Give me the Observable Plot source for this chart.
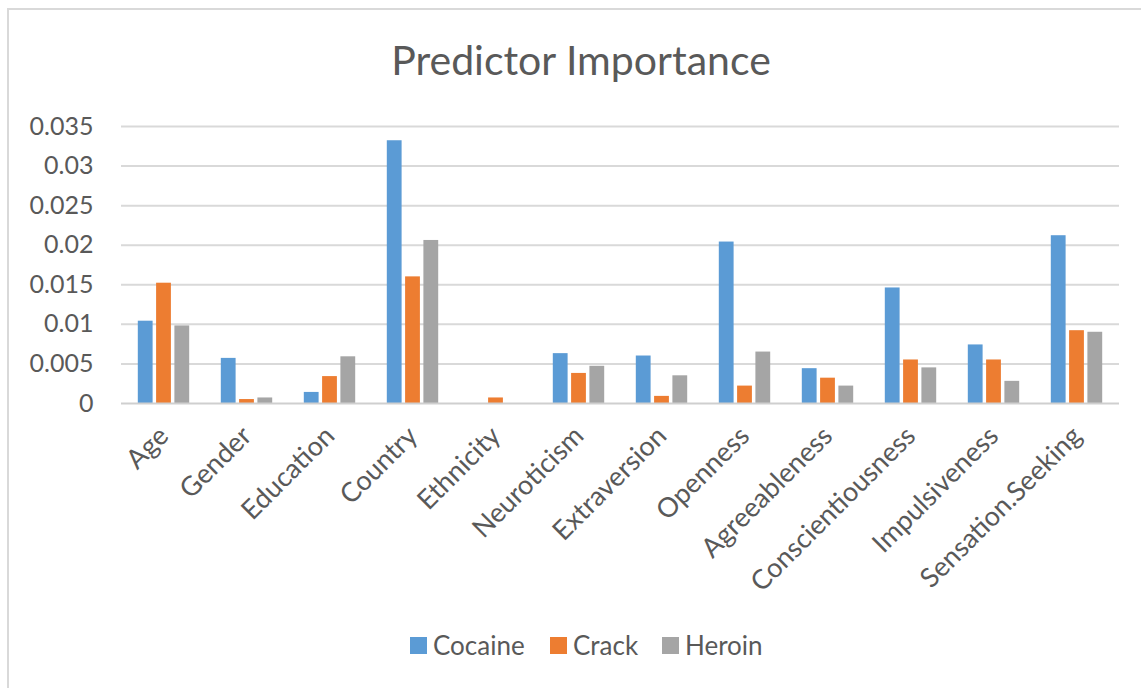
<!DOCTYPE html>
<html>
<head>
<meta charset="utf-8">
<script src="https://cdn.jsdelivr.net/npm/d3@7"></script>
<script src="https://cdn.jsdelivr.net/npm/@observablehq/plot@0.6"></script>
<style>
  html, body { margin: 0; padding: 0; background: #fff; }
  body { width: 1141px; height: 688px; position: relative; overflow: hidden; font-family: Lato, "Open Sans", sans-serif; color: #595959; }
  #frame { position: absolute; left: 7px; top: 8px; width: 1160px; height: 700px; border-left: 2px solid #d9d9d9; border-top: 2px solid #d9d9d9; }
  #title { position: absolute; left: 0; top: 35px; width: 1162px; text-align: center; font-size: 41px; color: #595959; }
  #chart { position: absolute; left: 0; top: 96px; }
  #legend { position: absolute; top: 630px; left: 0; width: 1141px; height: 30px; }
  .item { position: absolute; top: 0; font-size: 26px; line-height: 30px; color: #595959; }
  .sw { position: absolute; top: 7px; width: 17px; height: 17px; }
</style>
</head>
<body>
<div id="frame"></div>
<div id="title">Predictor Importance</div>
<div id="chart"></div>
<div id="legend"></div>
<script>
const categories = ["Age", "Gender", "Education", "Country", "Ethnicity", "Neuroticism", "Extraversion", "Openness", "Agreeableness", "Conscientiousness", "Impulsiveness", "Sensation.Seeking"];
const cocaine = [0.0104, 0.0057, 0.0014, 0.0332, 0, 0.0063, 0.0060, 0.0204, 0.0044, 0.0146, 0.0074, 0.0212];
const crack   = [0.0152, 0.0005, 0.0034, 0.0160, 0.0007, 0.0038, 0.0009, 0.0022, 0.0032, 0.0055, 0.0055, 0.0092];
const heroin  = [0.0098, 0.0007, 0.0059, 0.0206, 0, 0.0047, 0.0035, 0.0065, 0.0022, 0.0045, 0.0028, 0.0090];
const seriesNames = ["Cocaine", "Crack", "Heroin"];
const seriesColors = ["#5B9BD5", "#ED7D31", "#A5A5A5"];
const yTicks = [0, 0.005, 0.01, 0.015, 0.02, 0.025, 0.03, 0.035];

const seriesValues = [cocaine, crack, heroin];
const rows = seriesValues.map(vals => categories.map((c, i) => ({category: c, value: vals[i]})));
const insets = [[15.8, 52.4], [34.1, 34.1], [52.4, 15.8]];

const chart = Plot.plot({
  width: 1141,
  height: 504,
  marginLeft: 121,
  marginRight: 22,
  marginTop: 30,
  marginBottom: 197,
  style: {fontFamily: "Lato, 'Open Sans', sans-serif", fontSize: "25px", color: "#595959", background: "transparent"},
  x: {domain: categories, padding: 0},
  y: {domain: [0, 0.035], ticks: yTicks},
  marks: [
    Plot.ruleY(yTicks.filter(d => d > 0), {stroke: "#d9d9d9", strokeWidth: 2, strokeOpacity: 1}),
    ...rows.map((data, k) => Plot.barY(data, {
      x: "category", y: "value", fill: seriesColors[k],
      insetLeft: insets[k][0], insetRight: insets[k][1]
    })),
    Plot.ruleY([0], {stroke: "#cfcfcf", strokeWidth: 2}),
    Plot.axisY({ticks: yTicks, tickSize: 0, tickPadding: 28, label: null, fontSize: 25, tickFormat: d => String(+d.toFixed(3))}),
    Plot.axisX({tickSize: 0, tickPadding: 28, tickRotate: -45, label: null, fontSize: 27})
  ]
});
document.getElementById("chart").appendChild(chart);

const legend = document.getElementById("legend");
const lx = [410, 550, 662];
seriesNames.forEach((name, k) => {
  const sw = document.createElement("div");
  sw.className = "sw";
  sw.style.left = lx[k] + "px";
  sw.style.background = seriesColors[k];
  legend.appendChild(sw);
  const t = document.createElement("div");
  t.className = "item";
  t.style.left = (lx[k] + 23) + "px";
  t.textContent = name;
  legend.appendChild(t);
});
</script>
</body>
</html>
